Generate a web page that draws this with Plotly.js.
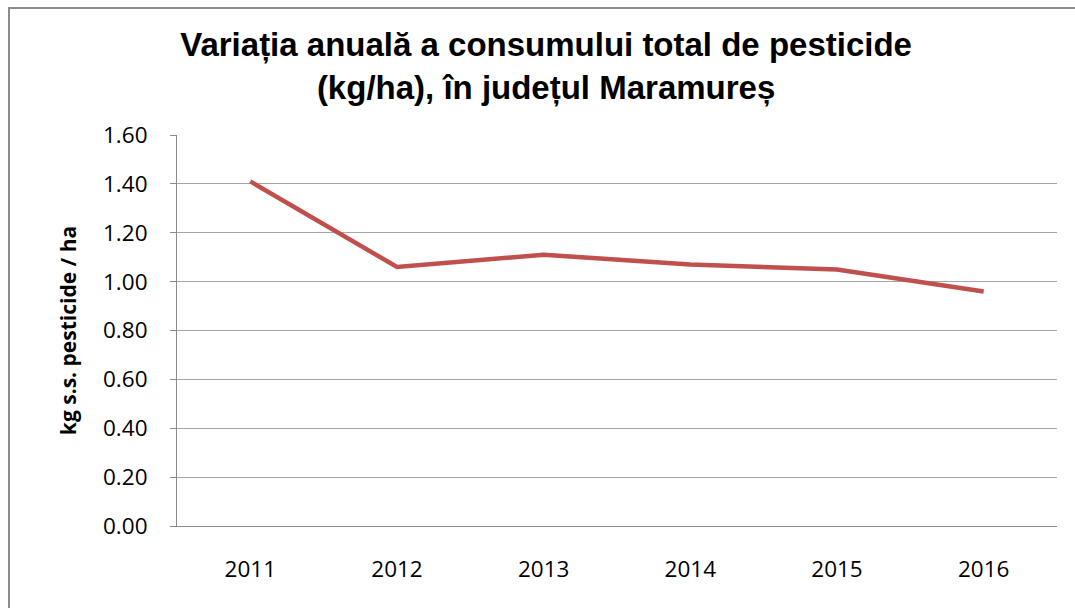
<!DOCTYPE html>
<html>
<head>
<meta charset="utf-8">
<script src="https://cdn.plot.ly/plotly-3.0.1.min.js"></script>
<style>
  html, body { margin: 0; padding: 0; background: #fff; }
  #frame { position: absolute; left: 0; top: 0; width: 1075px; height: 608px; overflow: hidden; }
  #border { position: absolute; left: 8px; top: 7px; width: 1075px; height: 620px;
            border-left: 2px solid #8c8c8c; border-top: 2px solid #8c8c8c; }
  #chart { position: absolute; left: 0; top: 0; width: 1075px; height: 608px; }
</style>
</head>
<body>
<div id="frame">
  <div id="border"></div>
  <div id="chart"></div>
</div>
<script>
const years = ["2011", "2012", "2013", "2014", "2015", "2016"];
const consumption = [1.41, 1.06, 1.11, 1.07, 1.05, 0.96];
const yTickVals = [0, 0.2, 0.4, 0.6, 0.8, 1.0, 1.2, 1.4, 1.6];
const yTickText = ["0.00", "0.20", "0.40", "0.60", "0.80", "1.00", "1.20", "1.40", "1.60"];

const trace = {
  x: years,
  y: consumption,
  type: "scatter",
  mode: "lines",
  line: { color: "#c0504d", width: 4.5 },
  hoverinfo: "x+y"
};

const layout = {
  width: 1075,
  height: 608,
  paper_bgcolor: "rgba(0,0,0,0)",
  plot_bgcolor: "rgba(0,0,0,0)",
  margin: { l: 177, r: 18, t: 135, b: 82 },
  showlegend: false,
  title: {
    text: "Variația anuală a consumului total de pesticide<br>(kg/ha), în județul Maramureș",
    font: { family: "Liberation Sans, Arial, sans-serif", size: 33, color: "#000", weight: "bold" },
    x: 0.508, xref: "container", xanchor: "center",
    y: 0.908, yref: "container", yanchor: "middle"
  },
  xaxis: {
    type: "category",
    range: [-0.5, 5.5],
    showgrid: false,
    showline: true,
    linecolor: "#8c8c8c",
    linewidth: 1,
    ticks: "",
    tickfont: { family: "Open Sans, sans-serif", size: 22.5, color: "#000" },
    ticklabelstandoff: 23,
    fixedrange: true
  },
  yaxis: {
    range: [0, 1.6],
    tickvals: yTickVals,
    ticktext: yTickText,
    showgrid: true,
    gridcolor: "#a6a6a6",
    gridwidth: 1,
    showline: true,
    linecolor: "#8c8c8c",
    linewidth: 1,
    ticks: "outside",
    ticklen: 6,
    tickcolor: "#8c8c8c",
    tickfont: { family: "Open Sans, sans-serif", size: 22.5, color: "#000" },
    ticklabelstandoff: 18,
    zeroline: false,
    title: {
      text: "kg s.s. pesticide / ha",
      font: { family: "Open Sans, sans-serif", size: 21, color: "#000", weight: "bold" },
      standoff: 20
    },
    fixedrange: true
  }
};

Plotly.newPlot("chart", [trace], layout, { displayModeBar: false });
</script>
</body>
</html>
